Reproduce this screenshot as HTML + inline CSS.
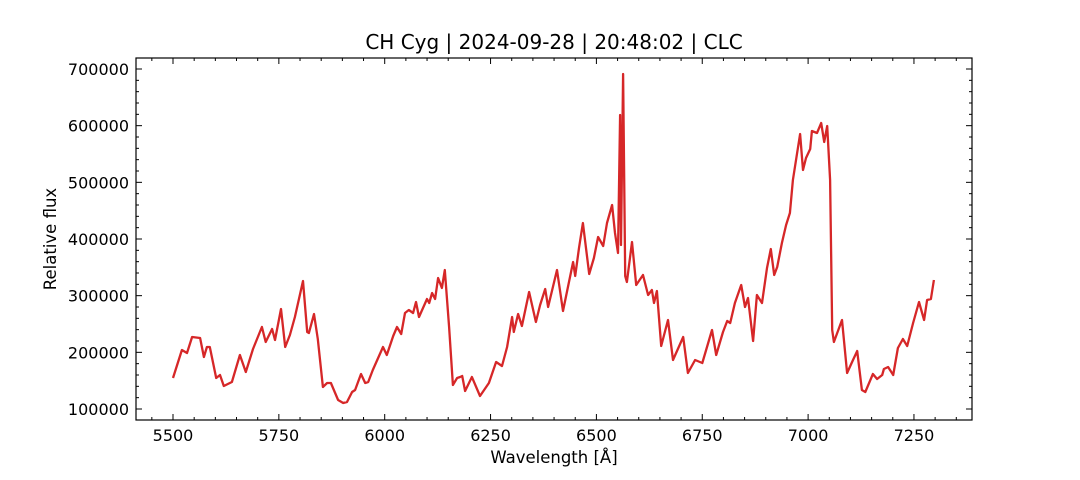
<!DOCTYPE html>
<html><head><meta charset="utf-8"><style>
html,body{margin:0;padding:0;background:#fff;}
svg{display:block;font-family:"DejaVu Sans","Liberation Sans",sans-serif;}
</style></head><body>
<svg id="chart" width="1080" height="480" viewBox="0 0 1080 480" xmlns="http://www.w3.org/2000/svg">
<rect width="1080" height="480" fill="#fff"/>
<text x="554" y="49" font-size="20" text-anchor="middle" fill="#000">CH Cyg | 2024-09-28 | 20:48:02 | CLC</text>
<g id="ticks"></g>
<path id="line" fill="none" stroke="#d62728" stroke-width="2.3" stroke-linejoin="round"/>
<rect x="136" y="58" width="836" height="362" fill="none" stroke="#000" stroke-width="1.2"/>
<text x="554" y="463" font-size="16.5" text-anchor="middle">Wavelength [Å]</text>
<text transform="translate(56,239) rotate(-90)" font-size="16.5" text-anchor="middle">Relative flux</text>
</svg>
<script>
const wavelengths=[5500,5521,5533,5545,5564,5573,5580,5587,5602,5611,5620,5639,5658,5672,5689,5710,5719,5734,5741,5755,5765,5776,5788,5807,5817,5821,5833,5842,5854,5864,5873,5890,5902,5911,5923,5930,5944,5954,5961,5972,5996,6005,6020,6029,6039,6048,6057,6067,6074,6081,6100,6105,6112,6119,6126,6135,6142,6152,6161,6171,6178,6183,6190,6206,6225,6246,6263,6277,6289,6301,6305,6315,6324,6341,6357,6367,6379,6386,6407,6421,6445,6450,6459,6468,6483,6494,6504,6516,6525,6537,6544,6551,6556,6558,6563,6568,6572,6584,6594,6610,6622,6631,6636,6643,6653,6669,6681,6705,6716,6733,6750,6773,6783,6799,6809,6816,6827,6842,6851,6858,6870,6879,6891,6903,6912,6920,6927,6938,6948,6957,6964,6981,6988,6995,7005,7009,7021,7031,7038,7045,7052,7057,7061,7080,7092,7106,7116,7127,7135,7153,7163,7175,7179,7189,7201,7212,7224,7234,7248,7262,7274,7281,7290,7297];
const fluxes=[154700,204100,198800,227100,225300,191800,209400,209400,154700,160000,140600,147600,195300,165300,205900,244700,218200,241200,221800,276500,209400,230600,262400,325900,235900,234100,267600,223500,138800,145900,145900,115900,110600,112400,130000,133500,161800,145900,147600,168800,209400,195300,228800,244700,232400,269400,274700,269400,288800,262400,294100,287100,304700,294100,331200,313500,345300,244700,142400,154700,156500,158200,131800,156500,122900,145900,182900,175900,209400,262400,235900,267600,246500,306500,253500,283500,311800,280000,345300,272900,359400,334700,384100,428200,338200,366500,403500,387600,428200,460000,410600,375300,618800,389400,691200,334700,324100,394700,318800,336500,301200,310000,287100,308200,211200,257100,186500,227100,163500,186500,181200,239400,195300,235900,255300,251800,287100,318800,280000,295900,220000,301200,287100,348800,382400,336500,350600,392900,424700,445900,504100,585300,521800,542900,558800,590600,587100,604700,571200,599400,504100,239400,218200,257100,163500,186500,202400,133500,130000,161800,152900,160000,170600,174100,160000,207600,223500,211200,251800,288800,257100,292400,294100,327600];
const xTicks=[5500,5750,6000,6250,6500,6750,7000,7250];
const yTicks=[100000,200000,300000,400000,500000,600000,700000];
const NS="http://www.w3.org/2000/svg";
const L=136,R=972,T=58,B=420;
const xMin=5412.6,xMax=7387.1,yMin=80588,yMax=719412;
function sx(v){return L+(v-xMin)/(xMax-xMin)*(R-L);}
function sy(v){return B-(v-yMin)/(yMax-yMin)*(B-T);}
let d="";
for(let i=0;i<wavelengths.length;i++){d+=(i?"L":"M")+sx(wavelengths[i]).toFixed(1)+","+sy(fluxes[i]).toFixed(1);}
document.getElementById("line").setAttribute("d",d);
const g=document.getElementById("ticks");
function ln(x1,y1,x2,y2){const l=document.createElementNS(NS,"line");l.setAttribute("x1",x1);l.setAttribute("y1",y1);l.setAttribute("x2",x2);l.setAttribute("y2",y2);l.setAttribute("stroke","#000");l.setAttribute("stroke-width","1");g.appendChild(l);return l;}
for(let v=5450;v<=7350;v+=50){const x=sx(v);const major=xTicks.includes(v);const len=major?6:3;
ln(x,B,x,B-len);ln(x,T,x,T+len);}
for(let v=100000;v<=700000;v+=20000){const y=sy(v);const major=yTicks.includes(v);const len=major?6:3;
ln(L,y,L+len,y);ln(R,y,R-len,y);}
xTicks.forEach(v=>{const t=document.createElementNS(NS,"text");


t.setAttribute("x",sx(v));t.setAttribute("y",B+21);t.setAttribute("font-size","16");t.setAttribute("text-anchor","middle");t.textContent=v;g.appendChild(t);});
yTicks.forEach(v=>{const t=document.createElementNS(NS,"text");


t.setAttribute("x",L-7);t.setAttribute("y",sy(v)+6);t.setAttribute("font-size","16");t.setAttribute("text-anchor","end");t.textContent=v;g.appendChild(t);});
</script>
</body></html>
